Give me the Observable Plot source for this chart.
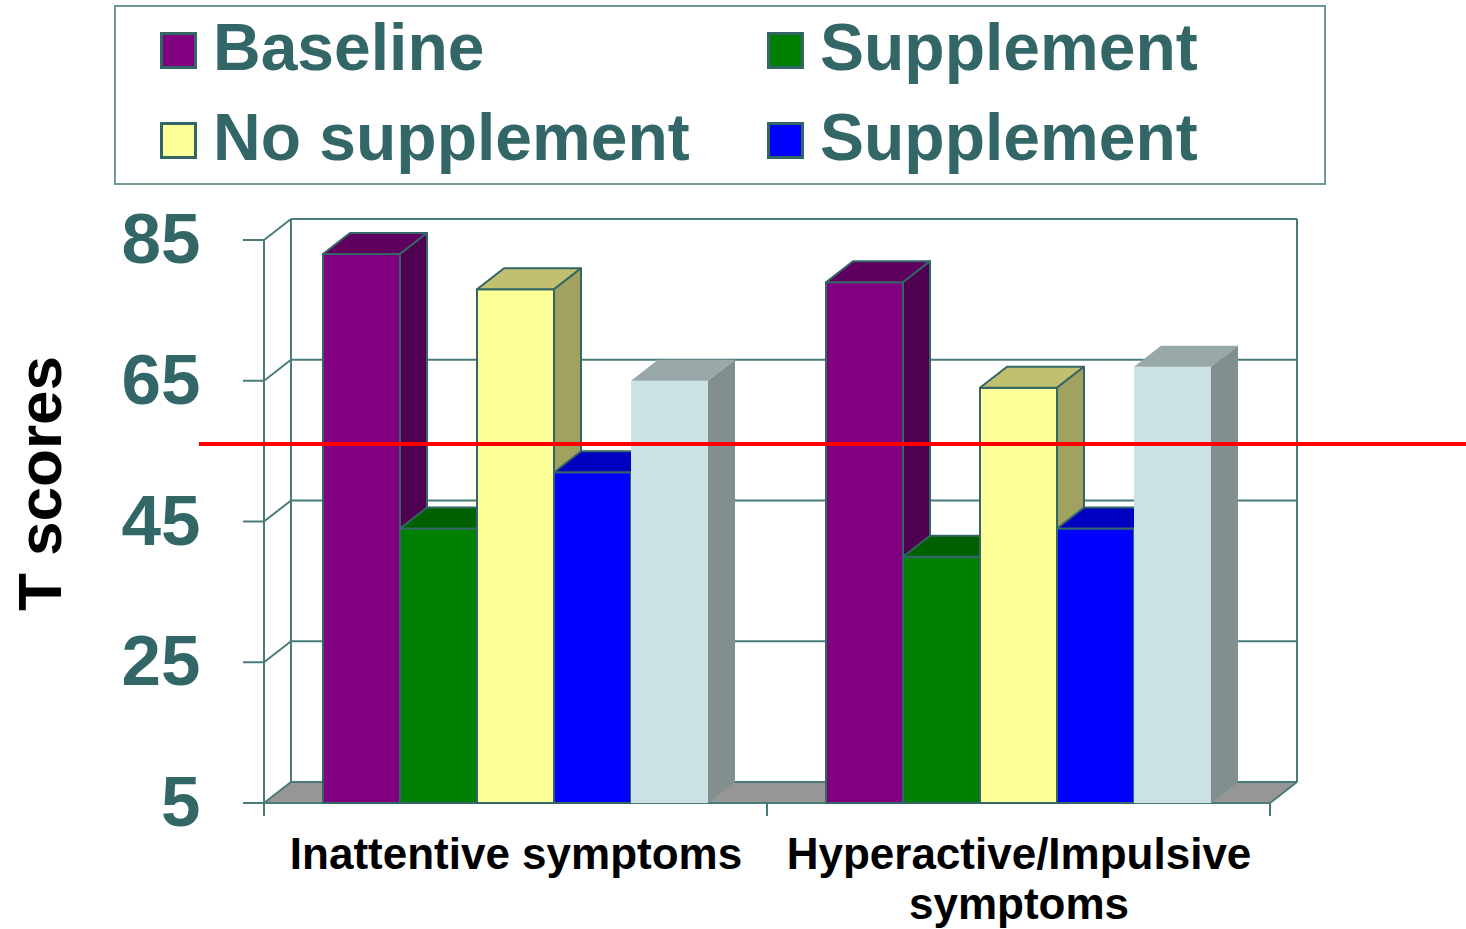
<!DOCTYPE html>
<html>
<head>
<meta charset="utf-8">
<script src="https://cdn.jsdelivr.net/npm/d3@7"></script>
<script src="https://cdn.jsdelivr.net/npm/@observablehq/plot@0.6"></script>
<style>
  html, body { margin: 0; padding: 0; background: #fff; }
  body { width: 1466px; height: 929px; overflow: hidden; font-family: "Liberation Sans", Arial, sans-serif; }
  #legend { position: relative; width: 1466px; height: 190px; }
  #legend .box { position: absolute; left: 114px; top: 5px; width: 1212px; height: 180px; box-sizing: border-box; border: 2px solid #6f9999; }
  #legend .items { position: absolute; left: 160px; top: 32px; display: grid; grid-template-columns: 607px auto; grid-auto-rows: 37px; row-gap: 53px; }
  #legend .item { display: flex; align-items: center; gap: 16px; }
  #legend .swatch { width: 37px; height: 37px; box-sizing: border-box; border: 3px solid #336666; flex: none; }
  #legend .label { font-size: 66px; font-weight: bold; color: #336666; line-height: 37px; position: relative; top: -3px; white-space: nowrap; }
  #chart svg { display: block; }
</style>
</head>
<body>
<div id="legend"><div class="box"></div><div class="items"></div></div>
<div id="chart"></div>
<script>
// Symptom categories along the horizontal axis
const categories = ["Inattentive symptoms", "Hyperactive/Impulsive symptoms"];
const categoryLabels = ["Inattentive symptoms", "Hyperactive/Impulsive\nsymptoms"];

// Series (one bar each per category)
const seriesIds = ["baseline", "supplementA", "noSupplement", "supplementB", "comparison"];
const legendLabels = ["Baseline", "Supplement", "No supplement", "Supplement"];

// T scores per series
const inattentive = [83, 44, 78, 52, 65];
const hyperactive = [79, 40, 64, 44, 67];

// Axis
const yDomain = [5, 85];
const yTicks = [5, 25, 45, 65, 85];
const yLabel = "T scores";

// Clinical cut-off line
const cutoff = 56;

// Face colours for each series
const frontColors = ["#800080", "#008000", "#ffff99", "#0000ff", "#cbe2e4"];
const topColors   = ["#5f005f", "#006000", "#c0c070", "#0000c0", "#99a9a9"];
const sideColors  = ["#500050", "#005000", "#a1a160", "#0000a0", "#818f8e"];
const edgeColors  = ["#336666", "#336666", "#336666", "#336666", "none"];

const lineColor = "#4a7b7b";
const textTeal = "#336666";
const fontFamily = "'Liberation Sans', Arial, sans-serif";
const depth = {dx: 27, dy: -21};

// Legend
const items = d3.select("#legend .items");
legendLabels.forEach((label, i) => {
  const item = items.append("div").attr("class", "item");
  item.append("div").attr("class", "swatch").style("background", frontColors[i]);
  item.append("div").attr("class", "label").text(label);
});

// Long-format table for Plot
const valuesByCategory = [inattentive, hyperactive];
const rows = categories.flatMap((category, ci) =>
  seriesIds.map((series, si) => ({category, series, si, value: valuesByCategory[ci][si]}))
);

const pts = (arr) => arr.map((p) => p.join(",")).join(" ");

// Walls, floor, gridlines and axis ticks of the 3D box
function drawBox(index, scales, values, dims) {
  const {dx, dy} = depth;
  const x0 = dims.marginLeft, x1 = dims.width - dims.marginRight;
  const yb = scales.y(yDomain[0]), yt = scales.y(yDomain[1]);
  const g = d3.create("svg:g").attr("fill", "none").attr("stroke", lineColor).attr("stroke-width", 2);
  // floor
  g.append("polygon")
    .attr("points", pts([[x0, yb], [x1, yb], [x1 + dx, yb + dy], [x0 + dx, yb + dy]]))
    .attr("fill", "#969696").attr("stroke", "none");
  // back-wall gridlines, side-wall diagonals and value ticks
  for (const v of yTicks) {
    const y = scales.y(v);
    g.append("line").attr("x1", x0 + dx).attr("x2", x1 + dx).attr("y1", y + dy).attr("y2", y + dy);
    g.append("line").attr("x1", x0).attr("x2", x0 + dx).attr("y1", y).attr("y2", y + dy);
    g.append("line").attr("x1", x0 - 21).attr("x2", x0).attr("y1", y).attr("y2", y);
  }
  // verticals
  g.append("line").attr("x1", x0 + dx).attr("x2", x0 + dx).attr("y1", yt + dy).attr("y2", yb + dy);
  g.append("line").attr("x1", x1 + dx).attr("x2", x1 + dx).attr("y1", yt + dy).attr("y2", yb + dy);
  g.append("line").attr("x1", x0).attr("x2", x0).attr("y1", yt).attr("y2", yb + 13);
  // floor edges
  g.append("line").attr("x1", x0).attr("x2", x1).attr("y1", yb).attr("y2", yb);
  g.append("line").attr("x1", x1).attr("x2", x1 + dx).attr("y1", yb).attr("y2", yb + dy);
  // category boundary ticks
  const fx = scales.fx;
  const bounds = fx
    ? [...categories.map((c) => fx(c)), fx(categories[categories.length - 1]) + fx.bandwidth()]
    : [x0, (x0 + x1) / 2, x1];
  for (const bx of bounds) {
    g.append("line").attr("x1", bx).attr("x2", bx).attr("y1", yb).attr("y2", yb + 13);
  }
  return g.node();
}

// Cut-off line, running from the value labels to the page edge
function drawCutoff(index, scales, values, dims) {
  const y = scales.y(cutoff);
  return d3.create("svg:line")
    .attr("x1", dims.marginLeft - 65).attr("x2", dims.width)
    .attr("y1", y).attr("y2", y)
    .attr("stroke", "#ff0000").attr("stroke-width", 4)
    .node();
}

// 3D bars: front, top and side faces, painted left to right
function drawBars(index, scales, values, dims) {
  const {dx, dy} = depth;
  const w = scales.x.bandwidth();
  const yb = scales.y(yDomain[0]);
  const g = d3.create("svg:g").attr("stroke-width", 2).attr("stroke-linejoin", "round");
  const order = Array.from(index).sort((a, b) => rows[a].si - rows[b].si);
  for (const i of order) {
    const d = rows[i];
    const x = scales.x(d.series);
    const y = scales.y(d.value);
    const s = edgeColors[d.si];
    g.append("polygon").attr("points", pts([[x, y], [x + w, y], [x + w, yb], [x, yb]]))
      .attr("fill", frontColors[d.si]).attr("stroke", s);
    g.append("polygon").attr("points", pts([[x, y], [x + w, y], [x + w + dx, y + dy], [x + dx, y + dy]]))
      .attr("fill", topColors[d.si]).attr("stroke", s);
    g.append("polygon").attr("points", pts([[x + w, y], [x + w + dx, y + dy], [x + w + dx, yb + dy], [x + w, yb]]))
      .attr("fill", sideColors[d.si]).attr("stroke", s);
  }
  return g.node();
}

const chart = Plot.plot({
  width: 1466,
  height: 739,
  marginLeft: 263,
  marginRight: 196,
  marginTop: 50,
  marginBottom: 126,
  style: {fontFamily, background: "#fff"},
  fx: {domain: categories, padding: 0, axis: null},
  x: {domain: seriesIds, paddingInner: 0, paddingOuter: 0.7276, axis: null},
  y: {domain: yDomain, axis: null},
  marks: [
    Plot.frame({facet: "super", render: drawBox}),
    Plot.axisY(yTicks, {
      tickSize: 0, tickPadding: 64, fontSize: 71, fontWeight: "bold",
      color: textTeal, label: null, fontFamily
    }),
    Plot.barY(rows, {fx: "category", x: "series", y: "value", render: drawBars}),
    Plot.frame({facet: "super", render: drawCutoff}),
    Plot.text(categories, {
      fx: (d) => d, text: (d, i) => categoryLabels[i],
      frameAnchor: "bottom", lineAnchor: "top", dy: 30, lineHeight: 1.14,
      fontSize: 44, fontWeight: "bold", fill: "#000", fontFamily
    }),
    Plot.text([yLabel], {
      facet: "super", frameAnchor: "left", rotate: -90, dx: -223, dy: 89,
      fontSize: 62, fontWeight: "bold", fill: "#000", fontFamily
    })
  ]
});
document.getElementById("chart").append(chart);
</script>
</body>
</html>
